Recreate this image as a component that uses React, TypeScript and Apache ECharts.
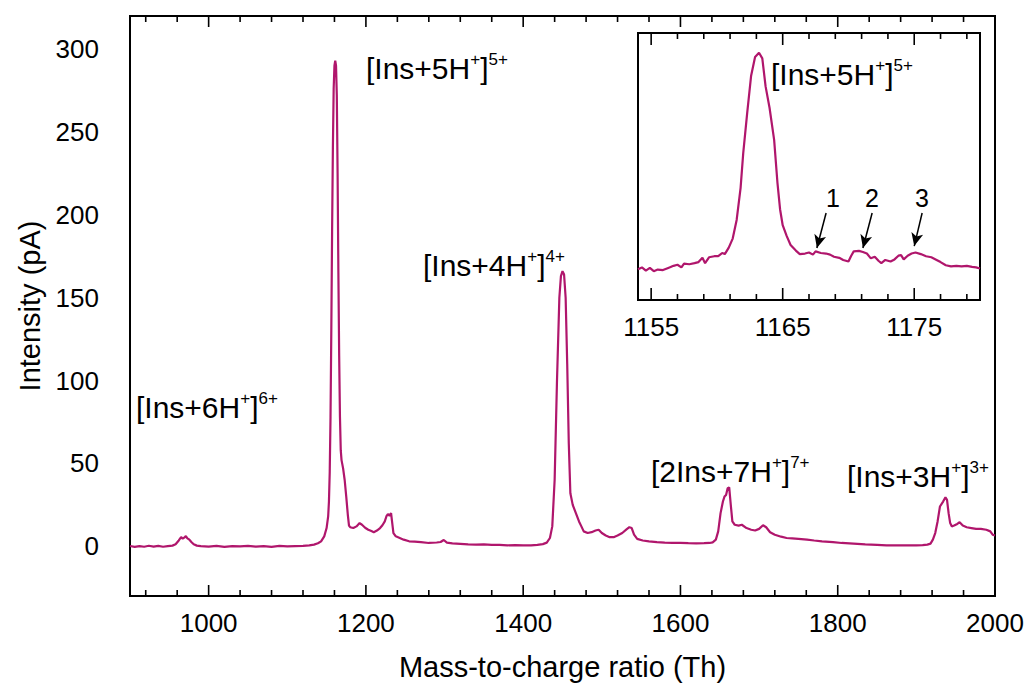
import React, { useEffect, useRef } from 'react';
import * as echarts from 'echarts';

const FONT = '"Liberation Sans", Arial, Helvetica, sans-serif';
const LINE_COLOR = '#B0166C';

// ---------- main spectrum (mass-to-charge ratio, Th) ----------
const massValues = [
  900, 906, 912, 918, 924, 930, 936, 942, 948, 954,
  958, 962, 965, 967, 969, 971, 973, 975, 978, 981,
  985, 990, 1000, 1010, 1020, 1030, 1040, 1050, 1060, 1070,
  1080, 1090, 1100, 1110, 1120, 1128, 1134, 1139, 1143, 1147,
  1150, 1152, 1153, 1154, 1155, 1156, 1157, 1158, 1159, 1160,
  1161, 1162, 1163, 1164, 1165, 1166, 1167, 1168, 1169, 1171,
  1173, 1175, 1177, 1178.5, 1180, 1184, 1188, 1192, 1195, 1199,
  1203, 1207, 1210, 1214, 1218, 1221, 1224, 1226, 1228, 1230,
  1232, 1233, 1235, 1238, 1243, 1248, 1255, 1262, 1270, 1280,
  1290, 1295, 1299, 1303, 1310, 1320, 1330, 1340, 1350, 1360,
  1370, 1380, 1390, 1400, 1410, 1418, 1425, 1430, 1434, 1437,
  1440, 1443, 1446, 1448, 1450, 1452, 1454, 1456, 1458, 1460,
  1463, 1467, 1471, 1474, 1477, 1482, 1487, 1492, 1496, 1500,
  1505, 1510, 1515, 1520, 1526, 1531, 1535, 1538, 1541, 1545,
  1552, 1560, 1570, 1580, 1590, 1600, 1610, 1620, 1630, 1637,
  1641, 1645, 1648, 1651, 1654, 1656, 1658, 1660, 1662, 1664,
  1666, 1669, 1674, 1678, 1684, 1690, 1695, 1700, 1705, 1709,
  1714, 1720, 1728, 1735, 1742, 1750, 1761, 1770, 1780, 1794,
  1805, 1820, 1835, 1850, 1862, 1875, 1890, 1900, 1908, 1914,
  1918, 1921, 1924, 1927, 1930, 1934, 1937, 1939, 1941, 1943,
  1945, 1948, 1952, 1955, 1959, 1964, 1970, 1976, 1982, 1989,
  1994, 1997, 2000,
];
// intensity (pA)
const intensityValues = [
  0.2, -0.4, 0.1, -0.3, 0.3, -0.2, 0.2, -0.3, 0.1, 0.4,
  1.2, 3.5, 5.5, 4.6, 5.2, 6.2, 4.8, 4.2, 2.6, 1.2,
  0.4, 0.1, -0.2, 0.2, -0.3, 0.1, -0.1, 0.3, -0.2, 0.1,
  -0.3, 0.2, -0.1, 0.1, 0.3, 0.5, 1.0, 1.8, 3.0, 6,
  11, 18, 27, 45, 78, 130, 190, 240, 276, 290,
  293, 290, 272, 225, 165, 115, 78, 58, 52, 47,
  40, 30, 19, 12.5, 11.5, 11, 12, 14, 13, 11.2,
  10, 9.2, 8.5, 9.5, 11, 12.7, 15, 18, 19.5, 18.5,
  20, 16, 8, 6, 5, 4, 3, 2.8, 2.5, 2,
  2.3, 2.6, 3.8, 2.2, 1.8, 1.5, 1.2, 1, 1.1, 0.8,
  0.9, 0.6, 0.7, 0.5, 0.6, 0.9, 1.3, 2.2, 5, 12,
  40, 100, 150, 163, 166, 164, 150, 110, 62, 32,
  25, 20, 15, 12, 9, 8, 8.5, 9.5, 10, 8,
  6.5, 5.5, 5.5, 6.5, 8, 10, 11.5, 11, 7, 4.5,
  3.5, 3, 2.5, 2.2, 2, 2.1, 1.9, 1.8, 1.9, 2,
  2.4, 4, 9, 20, 27, 30, 31, 35, 35.5, 25,
  15, 13, 12.5, 13, 11, 10, 9.5, 10.5, 12.7, 11.5,
  8.5, 7, 5.8, 5, 4.8, 4.5, 4, 3.5, 3, 2.5,
  2, 1.6, 1.2, 0.9, 0.6, 0.5, 0.5, 0.6, 0.7, 1,
  1.6, 4, 8, 15, 24, 27, 29.5, 28, 20, 14,
  12, 12.5, 13.5, 14.5, 12.5, 11.5, 11, 10.5, 10.5, 10,
  9, 7, 6.5,
];

// ---------- inset (zoom on the 5+ peak, arbitrary units) ----------
const insetMass = [
  1154.0, 1154.3, 1154.6, 1154.9, 1155.2, 1155.5, 1155.9, 1156.3, 1156.7, 1157.0,
  1157.3, 1157.5, 1157.9, 1158.3, 1158.6, 1158.9, 1159.1, 1159.4, 1159.8, 1160.1,
  1160.4, 1160.6, 1160.9, 1161.2, 1161.5, 1161.8, 1162.0, 1162.3, 1162.6, 1162.9,
  1163.2, 1163.45, 1163.7, 1164.0, 1164.35, 1164.6, 1164.8, 1165.0, 1165.3, 1165.6,
  1166.0, 1166.3, 1166.7, 1167.0, 1167.3, 1167.5, 1167.9, 1168.3, 1168.6, 1168.9,
  1169.3, 1169.6, 1170.0, 1170.2, 1170.4, 1170.8, 1171.1, 1171.4, 1171.7, 1172.0,
  1172.3, 1172.5, 1172.8, 1173.2, 1173.5, 1173.8, 1174.0, 1174.2, 1174.5, 1174.8,
  1175.1, 1175.5, 1175.9, 1176.3, 1176.7, 1177.0, 1177.4, 1177.8, 1178.2, 1178.6,
  1179.0, 1179.4, 1179.7, 1180.0,
];
const insetSignal = [
  11.5, 12.2, 11.0, 12.0, 10.8, 11.4, 11.2, 12.0, 12.8, 13.2,
  12.2, 13.6, 13.4, 13.8, 14.2, 15.8, 13.8, 16.0, 16.4, 16.4,
  17.6, 17.2, 19.6, 23, 30, 42, 55, 70, 84, 91,
  92.6, 90.5, 80, 72, 60, 44, 34, 28, 24, 20.6,
  18.5, 17.2, 17.4, 17.8, 17.0, 18.2, 17.6, 17.4, 17.0, 16.2,
  15.8, 15.0, 14.4, 16.5, 18.2, 18.4, 18.0, 17.4, 15.6, 16.2,
  14.6, 13.8, 15.0, 14.4, 15.2, 16.6, 16.8, 15.2, 16.6, 17.4,
  17.8, 17.2, 16.4, 16.0, 15.0, 14.2, 13.0, 12.6, 12.8, 12.6,
  12.8, 12.4, 12.2, 11.8,
];

// ---------- ticks ----------
const mainXLabels = [1000, 1200, 1400, 1600, 1800, 2000];
const mainXMinor = [920, 960, 1040, 1080, 1120, 1160, 1240, 1280, 1320, 1360, 1440, 1480, 1520, 1560, 1640, 1680, 1720, 1760, 1840, 1880, 1920, 1960];
const mainYLabels = [0, 50, 100, 150, 200, 250, 300];
const insetXLabels = [1155, 1165, 1175];
const insetXMinor = [1157, 1159, 1161, 1163, 1167, 1169, 1171, 1173, 1177, 1179];

// arrows in the inset: [startMass, startSignal, endMass, endSignal]
const insetArrows = [
  [1168.3, 32.6, 1167.6, 19.5],
  [1171.8, 32.6, 1171.1, 19.5],
  [1175.6, 32.6, 1175.0, 20.2],
];

const plain = (v: number) => String(v);

// tick marks drawn through the axis scale: item = [value, tickLength, side(0 bottom / 1 top)]
function tickItems(major: number[], minor: number[], majorLen: number, minorLen: number) {
  const items: number[][] = [];
  for (const side of [0, 1]) {
    major.forEach((v) => items.push([v, majorLen, side]));
    minor.forEach((v) => items.push([v, minorLen, side]));
  }
  return items;
}

function tickSeries(xAxisIndex: number, yAxisIndex: number, yMin: number, yMax: number, items: number[][], z: number) {
  return {
    type: 'custom',
    xAxisIndex,
    yAxisIndex,
    z,
    silent: true,
    clip: false,
    encode: { x: 0 },
    data: items,
    renderItem: (_params: any, api: any) => {
      const v = api.value(0);
      const len = api.value(1);
      const side = api.value(2);
      const p = api.coord([v, side === 1 ? yMax : yMin]);
      const dir = side === 1 ? 1 : -1;
      return {
        type: 'line',
        shape: { x1: p[0], y1: p[1], x2: p[0], y2: p[1] + dir * len },
        style: { stroke: '#000', lineWidth: 1.6 },
      };
    },
  };
}

function xAxisDef(grid: number, min: number, max: number, labels: number[], margin: number) {
  return {
    type: 'value',
    gridIndex: grid,
    min,
    max,
    position: 'bottom',
    axisLine: { show: false, onZero: false },
    axisTick: { show: false },
    axisLabel: { show: true, customValues: labels, formatter: plain, fontSize: 26, fontFamily: FONT, color: '#000', margin },
    splitLine: { show: false },
  } as any;
}

const richStyles = {
  n: { fontSize: 30, fontFamily: FONT, fill: '#000', lineHeight: 34 },
  s: { fontSize: 17, fontFamily: FONT, fill: '#000', lineHeight: 23, verticalAlign: 'top' },
};

function ion(prefix: string, charge: string) {
  return `{n|${prefix}}{s|+}{n|]}{s|${charge}}`;
}

function ionText(x: number, y: number, prefix: string, charge: string) {
  return {
    type: 'text',
    x,
    y,
    z: 100,
    style: { text: ion(prefix, charge), rich: richStyles, verticalAlign: 'top', align: 'left', fill: '#000' },
  };
}

function numText(x: number, y: number, t: string) {
  return {
    type: 'text',
    x,
    y,
    z: 100,
    style: { text: t, fontSize: 25, fontFamily: FONT, fill: '#000', align: 'center', verticalAlign: 'middle' },
  };
}

export default function App() {
  const ref = useRef<HTMLDivElement>(null);
  useEffect(() => {
    const chart = echarts.init(ref.current!, null, { renderer: 'svg' });
    const mainData = massValues.map((m, i) => [m, intensityValues[i]]);
    const insetData = insetMass.map((m, i) => [m, insetSignal[i]]);

    const xMain = xAxisDef(0, 900, 2000, mainXLabels, 14);
    xMain.name = 'Mass-to-charge ratio (Th)';
    xMain.nameLocation = 'middle';
    xMain.nameGap = 56;
    xMain.nameTextStyle = { fontSize: 29, fontFamily: FONT, color: '#000' };

    const option: any = {
      animation: false,
      backgroundColor: '#fff',
      grid: [
        { left: 130, top: 16, width: 865, height: 580, show: true, borderColor: '#000', borderWidth: 2, backgroundColor: 'transparent', outerBoundsMode: 'none', containLabel: false },
        { left: 638, top: 33, width: 342, height: 267, show: true, borderColor: '#000', borderWidth: 2, backgroundColor: '#fff', z: 5, outerBoundsMode: 'none', containLabel: false },
      ],
      xAxis: [xMain, xAxisDef(1, 1154, 1180, insetXLabels, 14)],
      yAxis: [
        {
          type: 'value',
          gridIndex: 0,
          min: -30,
          max: 320,
          axisLine: { show: false, onZero: false },
          axisTick: { show: false },
          axisLabel: { show: true, customValues: mainYLabels, formatter: plain, fontSize: 26, fontFamily: FONT, color: '#000', margin: 31 },
          splitLine: { show: false },
          name: 'Intensity (pA)',
          nameLocation: 'middle',
          nameGap: 84,
          nameRotate: 90,
          nameTextStyle: { fontSize: 29, fontFamily: FONT, color: '#000' },
        },
        {
          type: 'value',
          gridIndex: 1,
          min: 0,
          max: 100,
          show: false,
          splitLine: { show: false },
        },
      ],
      series: [
        {
          type: 'line',
          xAxisIndex: 0,
          yAxisIndex: 0,
          data: mainData,
          showSymbol: false,
          symbol: 'none',
          lineStyle: { color: LINE_COLOR, width: 2.2 },
          z: 3,
        },
        tickSeries(0, 0, -30, 320, tickItems(mainXLabels, mainXMinor, 11, 6), 4),
        {
          type: 'line',
          xAxisIndex: 1,
          yAxisIndex: 1,
          data: insetData,
          showSymbol: false,
          symbol: 'none',
          lineStyle: { color: LINE_COLOR, width: 2.2 },
          z: 10,
          markLine: {
            silent: true,
            symbol: ['none', 'arrow'],
            symbolSize: [9, 13],
            label: { show: false },
            lineStyle: { color: '#000', width: 1.5, type: 'solid' },
            data: insetArrows.map((a) => [{ coord: [a[0], a[1]] }, { coord: [a[2], a[3]] }]),
          },
        },
        tickSeries(1, 1, 0, 100, tickItems(insetXLabels, insetXMinor, 12, 6), 11),
      ],
      graphic: [
        ionText(366, 51, '[Ins+5H', '5+'),
        ionText(136, 390, '[Ins+6H', '6+'),
        ionText(423, 248, '[Ins+4H', '4+'),
        ionText(651, 454, '[2Ins+7H', '7+'),
        ionText(847, 459, '[Ins+3H', '3+'),
        ionText(771, 57, '[Ins+5H', '5+'),
        numText(833, 198, '1'),
        numText(872, 198, '2'),
        numText(922, 198, '3'),
      ],
    };
    chart.setOption(option);
    return () => chart.dispose();
  }, []);
  return (
    <div
      ref={ref}
      style={{ position: 'absolute', left: 0, top: 0, width: 1027, height: 683, background: '#fff' }}
    />
  );
}
